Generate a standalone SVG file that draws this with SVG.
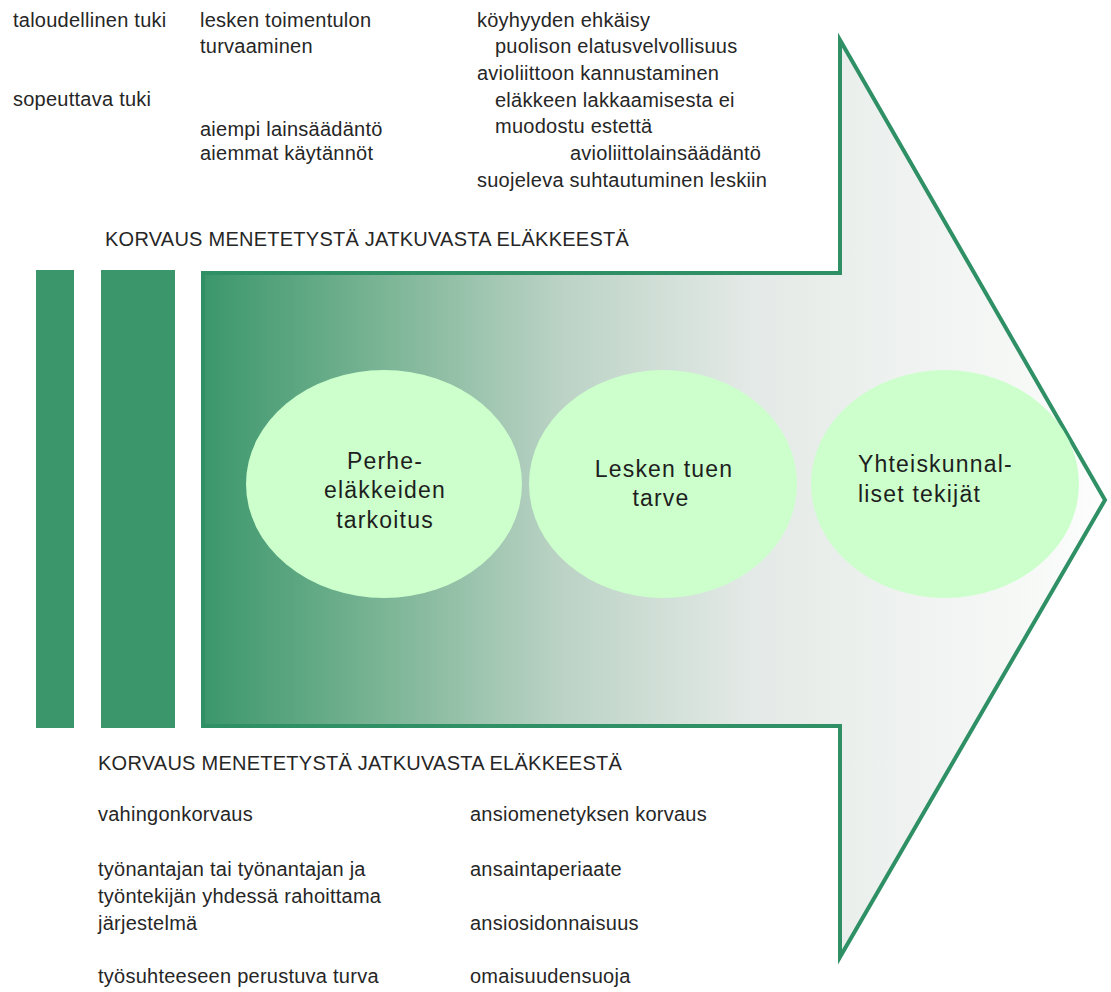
<svg xmlns="http://www.w3.org/2000/svg" width="1111" height="992" viewBox="0 0 1111 992">
<style>
.t{font-family:"Liberation Sans",Arial,sans-serif;font-size:20px;letter-spacing:0.25px;fill:#262626}
.e{font-family:"Liberation Sans",Arial,sans-serif;font-size:23px;letter-spacing:1.2px;fill:#1e1e1e}
.bar{fill:#3b976b}
.ell{fill:#ccffcc}
</style>
<defs>
<linearGradient id="g" x1="203" y1="0" x2="1107" y2="0" gradientUnits="userSpaceOnUse">
<stop offset="0" stop-color="#3b976b"/>
<stop offset="0.25" stop-color="#8bbca1"/>
<stop offset="0.4" stop-color="#bcd3c6"/>
<stop offset="0.6" stop-color="#e3e9e6"/>
<stop offset="0.8" stop-color="#f0f3f1"/>
<stop offset="1" stop-color="#fcfdfc"/>
</linearGradient>
</defs>
<rect width="1111" height="992" fill="#ffffff"/>
<g id="bars">
<rect class="bar" x="36" y="270" width="38" height="458"/>
<rect class="bar" x="101" y="270" width="74" height="458"/>
</g>
<g id="arrow">
<polygon points="203,273 840,273 840,40 1105,500 840,957 840,726 203,726" fill="url(#g)" stroke="#2f9066" stroke-width="4"/>
</g>
<g id="connectors"/>
<g id="node-perhe">
<ellipse class="ell" cx="384" cy="484" rx="138" ry="114"/>
<text class="e" x="385" y="469" text-anchor="middle">Perhe-</text>
<text class="e" x="385" y="498" text-anchor="middle">eläkkeiden</text>
<text class="e" x="385" y="528" text-anchor="middle">tarkoitus</text>
</g>
<g id="node-lesken">
<ellipse class="ell" cx="663" cy="484" rx="134" ry="114"/>
<text class="e" x="664" y="477" text-anchor="middle">Lesken tuen</text>
<text class="e" x="661" y="506" text-anchor="middle">tarve</text>
</g>
<g id="node-yhteis">
<ellipse class="ell" cx="945" cy="484" rx="134" ry="114"/>
<text class="e" x="858" y="472">Yhteiskunnal-</text>
<text class="e" x="858" y="502">liset tekijät</text>
</g>
<g id="top-labels">
<text class="t" x="13" y="26.5">taloudellinen tuki</text>
<text class="t" x="200" y="26.5">lesken toimentulon</text>
<text class="t" x="200" y="53">turvaaminen</text>
<text class="t" x="13" y="106">sopeuttava tuki</text>
<text class="t" x="200" y="136">aiempi lainsäädäntö</text>
<text class="t" x="200" y="160">aiemmat käytännöt</text>
<text class="t" x="477" y="26.5">köyhyyden ehkäisy</text>
<text class="t" x="495" y="53">puolison elatusvelvollisuus</text>
<text class="t" x="477" y="80">avioliittoon kannustaminen</text>
<text class="t" x="495" y="106.5">eläkkeen lakkaamisesta ei</text>
<text class="t" x="495" y="133">muodostu estettä</text>
<text class="t" x="570" y="160">avioliittolainsäädäntö</text>
<text class="t" x="477" y="186.5">suojeleva suhtautuminen leskiin</text>
<text class="t" x="105" y="246">KORVAUS MENETETYSTÄ JATKUVASTA ELÄKKEESTÄ</text>
</g>
<g id="bottom-labels">
<text class="t" x="98" y="770">KORVAUS MENETETYSTÄ JATKUVASTA ELÄKKEESTÄ</text>
<text class="t" x="98" y="821">vahingonkorvaus</text>
<text class="t" x="470" y="821">ansiomenetyksen korvaus</text>
<text class="t" x="98" y="876">työnantajan tai työnantajan ja</text>
<text class="t" x="98" y="903">työntekijän yhdessä rahoittama</text>
<text class="t" x="98" y="930">järjestelmä</text>
<text class="t" x="470" y="876">ansaintaperiaate</text>
<text class="t" x="470" y="930">ansiosidonnaisuus</text>
<text class="t" x="98" y="983">työsuhteeseen perustuva turva</text>
<text class="t" x="470" y="983">omaisuudensuoja</text>
</g>
</svg>
